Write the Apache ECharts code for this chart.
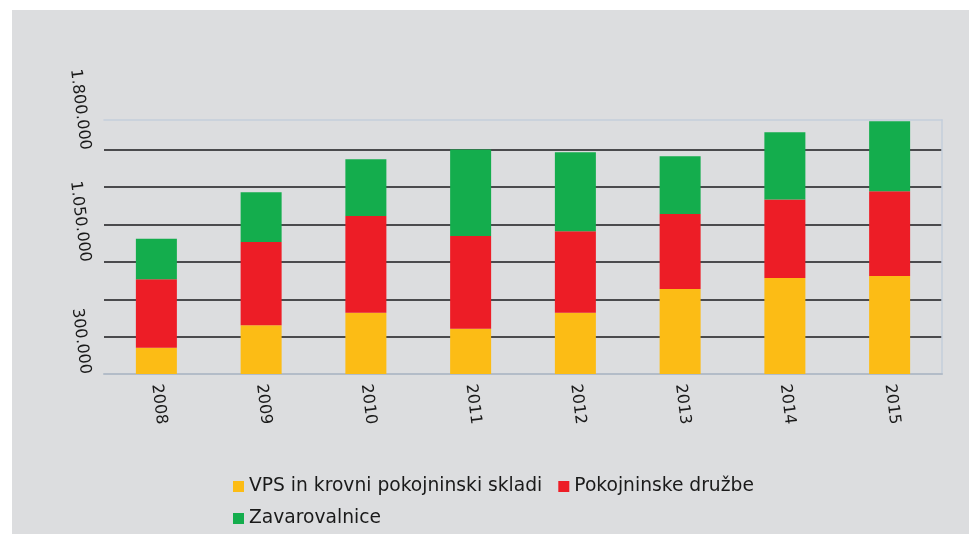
<!DOCTYPE html>
<html>
<head>
<meta charset="utf-8">
<script src="https://cdn.jsdelivr.net/npm/echarts@6/dist/echarts.min.js"></script>
<style>
html,body{margin:0;padding:0;background:#ffffff;}
#chart{width:969px;height:534px;}
</style>
</head>
<body>
<div id="chart"></div>
<script>
// ---- data ----
var categories = ['2008','2009','2010','2011','2012','2013','2014','2015'];
var seriesNames = ['VPS in krovni pokojninski skladi','Pokojninske družbe','Zavarovalnice'];
var vpsValues = [175600, 327100, 409200, 302400, 409200, 569500, 642900, 656200];
var druzbeValues = [458600, 556100, 647600, 620900, 545500, 500700, 525400, 567500];
var zavarovalniceValues = [271700, 333800, 380500, 578800, 529400, 387200, 449300, 467300];
// tick labels as printed on the reference, and the tick values they sit on
var yTickLabels = ['300.000', '1.050.000', '1.800.000'];
var yTickValues = [0, 750000, 1500000];

var chart = echarts.init(document.getElementById('chart'), null, {renderer: 'canvas'});

var FONT = 'DejaVu Sans';
var yMax = 1700000;

function yLabel(v) {
  for (var i = 0; i < yTickValues.length; i++) {
    if (Math.abs(v - yTickValues[i]) < 1) return yTickLabels[i];
  }
  return '';
}

var option = {
  backgroundColor: '#ffffff',
  animation: false,
  graphic: [{
    type: 'rect',
    left: 12, top: 10,
    shape: {width: 957, height: 524},
    style: {fill: '#dcdddf'},
    z: -10
  }],
  grid: {left: 104, right: 27, top: 120, bottom: 160, containLabel: false},
  legend: [{
    data: [seriesNames[0], seriesNames[1]],
    left: 228, top: 472,
    orient: 'horizontal',
    itemWidth: 11, itemHeight: 11, itemGap: 16,
    icon: 'rect',
    textStyle: {fontFamily: FONT, fontSize: 18.7, color: '#1a1a1a'}
  }, {
    data: [seriesNames[2]],
    left: 228, top: 504,
    orient: 'horizontal',
    itemWidth: 11, itemHeight: 11,
    icon: 'rect',
    textStyle: {fontFamily: FONT, fontSize: 18.7, color: '#1a1a1a'}
  }],
  xAxis: [{
    type: 'category',
    data: categories,
    axisLine: {show: true, lineStyle: {color: '#b3bcc8', width: 2}},
    axisTick: {show: false},
    axisLabel: {
      rotate: -83, align: 'left', verticalAlign: 'middle', margin: 10,
      fontFamily: FONT, fontSize: 16, color: '#1a1a1a'
    },
    splitLine: {show: false}
  }, {
    type: 'category',
    data: categories,
    position: 'top',
    axisLine: {show: true, onZero: false, lineStyle: {color: '#c4cedb', width: 1.5}},
    axisTick: {show: false},
    axisLabel: {show: false},
    splitLine: {show: false}
  }],
  yAxis: [{
    type: 'value',
    min: 0, max: yMax, interval: 250000,
    axisLine: {show: false},
    axisTick: {show: false},
    axisLabel: {
      rotate: -83, align: 'right', verticalAlign: 'middle', margin: 19,
      fontFamily: FONT, fontSize: 16, color: '#1a1a1a',
      showMaxLabel: false,
      formatter: function (v) { return yLabel(v); }
    },
    splitLine: {show: true, showMinLine: false, showMaxLine: false,
      lineStyle: {color: '#4a4a4d', width: 2}}
  }, {
    type: 'value',
    position: 'right',
    min: 0, max: yMax, interval: 250000,
    axisLine: {show: true, onZero: false, lineStyle: {color: '#c4cedb', width: 1.5}},
    axisTick: {show: false},
    axisLabel: {show: false},
    splitLine: {show: false}
  }],
  series: [{
    name: seriesNames[0], type: 'bar', stack: 'total',
    data: vpsValues, barWidth: 41,
    itemStyle: {color: '#fcbc15'}
  }, {
    name: seriesNames[1], type: 'bar', stack: 'total',
    data: druzbeValues, barWidth: 41,
    itemStyle: {color: '#ed1d26'}
  }, {
    name: seriesNames[2], type: 'bar', stack: 'total',
    data: zavarovalniceValues, barWidth: 41,
    itemStyle: {color: '#14ad4d'}
  }]
};
chart.setOption(option);
</script>
</body>
</html>
